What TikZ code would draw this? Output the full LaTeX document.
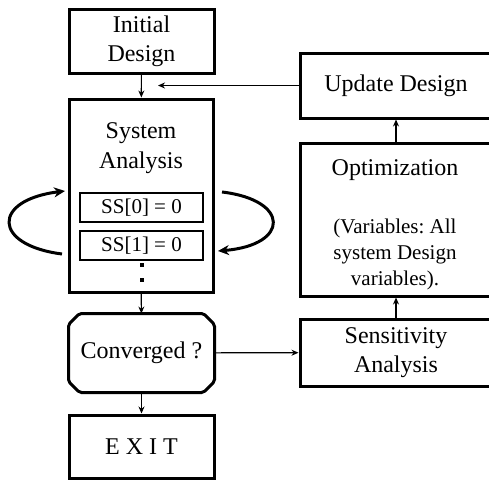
\documentclass[tikz,border=0pt]{standalone}
\usepackage{fontspec}
\setmainfont{Liberation Serif}
\usetikzlibrary{arrows.meta}
\frenchspacing

\begin{document}
\begin{tikzpicture}[x=1pt,y=-1pt,
    box/.style={draw,line width=3pt,inner sep=0pt,align=center,
      font=\fontsize{24}{29}\selectfont},
    smallbox/.style={draw,line width=1.2pt,minimum width=123,minimum height=29,
      inner sep=0pt,font=\fontsize{21}{25}\selectfont},
    flow/.style={line width=1.2pt,-{Stealth[length=7pt,width=6pt]}},
    iterarrow/.style={line width=3pt,-{Stealth[length=11pt,width=10pt]}}]
    \useasboundingbox (0,0) rectangle (489,479);
    \clip (0,0) rectangle (489,479);
    % left column
    \node[box,minimum width=145,minimum height=64] (init) at (141.5,41) {Initial\\Design};
    \node[box,minimum width=144,minimum height=193] (sysana) at (141,195.5) {};
    \node[align=center,font=\fontsize{24}{30}\selectfont] (satext) at (141,148) {System\\Analysis};
    \node[smallbox] (ss0) at (141.5,207.5) {SS[0] = 0};
    \node[smallbox] (ss1) at (141.5,245.5) {SS[1] = 0};
    \node[fill,minimum size=4.5,inner sep=0pt] (dota) at (142,265) {};
    \node[fill,minimum size=4.5,inner sep=0pt] (dotb) at (142,280) {};
    \node[box,draw=none,minimum width=143,minimum height=76] (conv) at (141.5,353) {Converged ?};
    \draw[line width=3pt,rounded corners=2pt]
      ([xshift=11]conv.north west) -- ([xshift=-11]conv.north east)
      -- ([yshift=-11]conv.north east) -- ([yshift=11]conv.south east)
      -- ([xshift=-11]conv.south east) -- ([xshift=11]conv.south west)
      -- ([yshift=11]conv.south west) -- ([yshift=-11]conv.north west) -- cycle;
    \node[box,minimum width=145,minimum height=63] (exit) at (141.5,446.5) {E X I T};
    % right column
    \node[box,minimum width=192,minimum height=65] (upd) at (396,85.5) {Update Design};
    \node[box,minimum width=192,minimum height=153] (opt) at (396,219.5) {};
    \node[font=\fontsize{24}{29}\selectfont] (opttitle) at (395,170) {Optimization};
    \node[align=center,font=\fontsize{21}{26}\selectfont] (optvars) at (395,254) {(Variables: All\\system Design\\variables).};
    \node[box,minimum width=192,minimum height=67] (sens) at (396,352.5) {Sensitivity\\Analysis};
    \coordinate (fb) at (158,87);
    \coordinate (lfrom) at (62,254);
    \coordinate (lto) at (65,191);
    \coordinate (rfrom) at (222,192);
    \coordinate (rto) at (218,251);
    % connectors
    \draw[flow] (init) -- (sysana);
    \draw[flow] (upd.west) -- (upd.west -| fb);
    \draw[flow] (sysana) -- (conv);
    \draw[flow] (conv) -- (exit);
    \draw[flow] (conv) -- (sens);
    \draw[flow] (sens) -- (opt);
    \draw[flow] (opt) -- (upd);
    \draw[iterarrow] (lfrom) .. controls (-8,245) and (-8,200) .. (lto);
    \draw[iterarrow] (rfrom) .. controls (290,200) and (290,245) .. (rto);
\end{tikzpicture}
\end{document}
